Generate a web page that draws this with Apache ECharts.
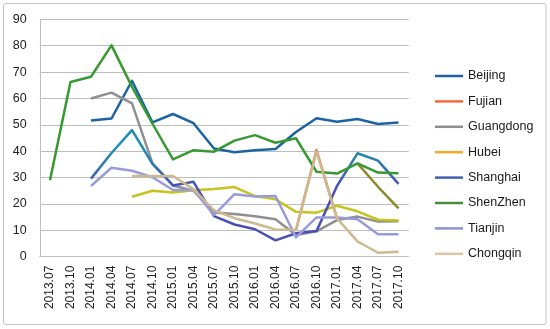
<!DOCTYPE html>
<html><head><meta charset="utf-8">
<script src="https://cdn.jsdelivr.net/npm/echarts@6/dist/echarts.min.js"></script>
<style>html,body{margin:0;padding:0;background:#fff}#c{width:550px;height:329px}</style>
</head><body><div id="c"></div>
<script>
var categories = ['2013.07','2013.10','2014.01','2014.04','2014.07','2014.10','2015.01','2015.04','2015.07','2015.10','2016.01','2016.04','2016.07','2016.10','2017.01','2017.04','2017.07','2017.10'];
var yTicks = [0,10,20,30,40,50,60,70,80,90];
var beijing   = [null,null,51.6,52.4,66.7,50.9,54.1,50.6,41.0,39.6,40.4,40.8,47.3,52.5,51.2,52.2,50.3,50.9];
var fujian    = [null,null,null,null,null,null,null,null,null,null,null,null,10.1,40.4,14.5,35.4,26.5,18.3];
var guangdong = [null,null,60.0,62.2,58.1,35.4,27.0,25.0,16.8,16.2,15.3,14.2,8.2,9.6,13.9,15.2,13.3,13.4];
var hubei     = [null,null,null,null,22.7,25.0,24.3,25.2,25.7,26.4,23.0,21.8,17.0,16.7,19.3,17.2,14.0,13.7];
var shanghai  = [null,null,29.6,39.3,48.0,35.2,27.0,28.4,15.4,12.2,10.4,6.2,8.9,9.7,26.8,39.2,36.4,27.6];
var shenzhen  = [29.0,66.2,68.2,80.1,64.4,50.4,36.9,40.4,39.8,44.0,46.1,43.2,44.9,32.2,31.5,35.4,31.9,31.6];
var tianjin   = [null,null,26.8,33.7,32.6,30.1,25.3,25.3,15.8,23.7,22.8,23.0,7.3,14.9,14.9,14.2,8.5,8.5];
var chongqin  = [null,null,null,null,30.6,30.6,30.6,25.6,17.6,14.6,12.6,10.3,10.1,39.8,14.5,5.8,1.5,1.9];
var names = ['Beijing','Fujian','Guangdong','Hubei','Shanghai','ShenZhen','Tianjin','Chongqin'];

var chart = echarts.init(document.getElementById('c'), null, {renderer:'canvas'});
var F = 'Liberation Sans, Arial, sans-serif';
function ln(name, data, color, extra){
  var s = {name:name, type:'line', data:data, symbol:'none', smooth:false, connectNulls:false,
    lineStyle:{color:color, width:2.5, join:'round'}, itemStyle:{color:color}, emphasis:{disabled:true}};
  for (var k in extra) s[k]=extra[k];
  return s;
}
var fujianSpike = fujian.map(function(v,i){return i<=14?v:null;});
var fujianTail  = fujian.map(function(v,i){return i>=15?v:null;});
var shColor = new echarts.graphic.LinearGradient(0,150,0,190,[{offset:0,color:'#1E8CB5'},{offset:1,color:'#4A4FB5'}],true);

var legendColors = {Beijing:'#1E60A6',Fujian:'#F26A35',Guangdong:'#8E8E8E',Hubei:'#F6A82A',Shanghai:'#3F5FB2',ShenZhen:'#4C8A3C',Tianjin:'#8A93D4',Chongqin:'#DDC6A0'};

chart.setOption({
  animation:false,
  backgroundColor:'#fff',
  graphic:[{type:'rect', shape:{x:3.5,y:3.5,width:542.5,height:321,r:2}, style:{fill:'none',stroke:'#C4C4C4',lineWidth:1}, z:-10}],
  grid:{left:39.75, right:141.25, top:19.3, bottom:72.3, containLabel:false},
  legend:{orient:'vertical', left:430, top:64, itemWidth:28, itemHeight:2.5, itemGap:11.4, icon:'rect',
    textStyle:{fontFamily:F, fontSize:12.5, color:'#1a1a1a', lineHeight:14},
    data:names.map(function(n){return {name:n, itemStyle:{color:legendColors[n]}};})},
  xAxis:{type:'category', data:categories, boundaryGap:true,
    axisLine:{lineStyle:{color:'#BFBFBF', width:1}}, axisTick:{show:false},
    axisLabel:{rotate:90, margin:9, fontFamily:F, fontSize:12, color:'#222', interval:0}},
  yAxis:{type:'value', min:yTicks[0], max:yTicks[yTicks.length-1], interval:10,
    axisLine:{show:true, lineStyle:{color:'#BFBFBF'}}, axisTick:{show:false},
    splitLine:{lineStyle:{color:'#BDBDBD', width:1.2}},
    axisLabel:{margin:13, fontFamily:F, fontSize:12.5, color:'#222'}},
  series:[
    ln('Beijing', beijing, '#1C63A5'),
    ln('Fujian', fujianSpike, '#F07850'),
    ln('Fujian', fujianTail, '#8C8B2C'),
    ln('Guangdong', guangdong, '#8F8F8F'),
    ln('Hubei', hubei, '#C8C21E'),
    ln('Shanghai', shanghai, shColor),
    ln('ShenZhen', shenzhen, '#379A30'),
    ln('Tianjin', tianjin, '#979BDA'),
    ln('Chongqin', chongqin, '#CDB98F')
  ]
});
</script></body></html>
